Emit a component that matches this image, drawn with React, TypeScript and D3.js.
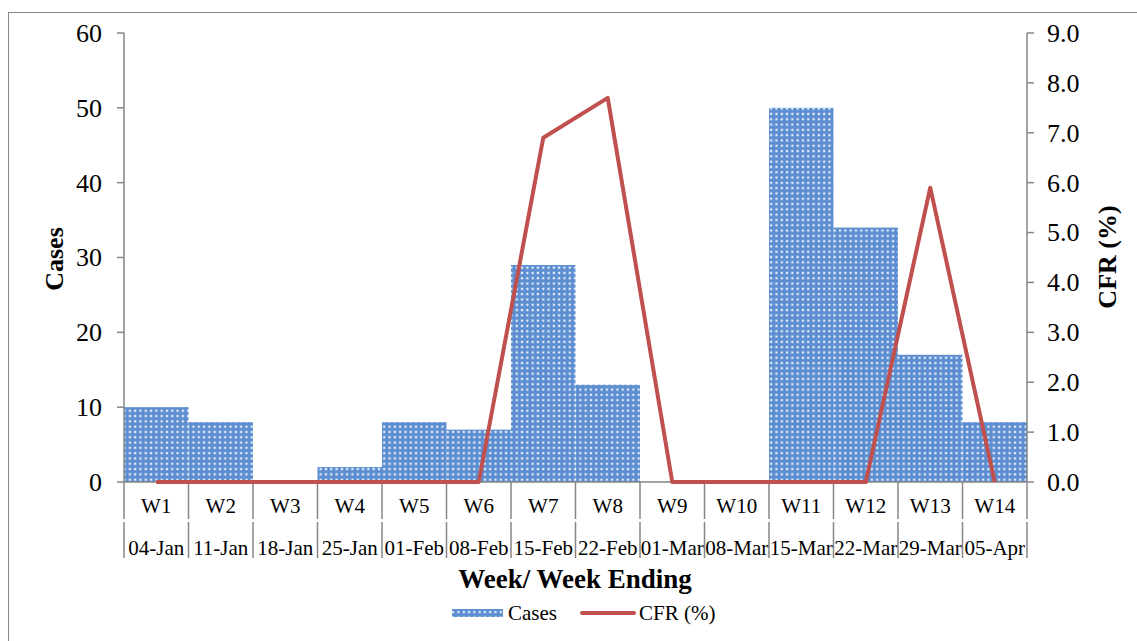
import React from "react";
import * as d3 from "d3";

const weeks = ["W1","W2","W3","W4","W5","W6","W7","W8","W9","W10","W11","W12","W13","W14"];
const weekEnding = ["04-Jan","11-Jan","18-Jan","25-Jan","01-Feb","08-Feb","15-Feb","22-Feb","01-Mar","08-Mar","15-Mar","22-Mar","29-Mar","05-Apr"];
const cases = [10, 8, 0, 2, 8, 7, 29, 13, 0, 0, 50, 34, 17, 8];
const cfr = [0, 0, 0, 0, 0, 0, 6.9, 7.7, 0, 0, 0, 0, 5.9, 0];
const leftTicks = [0, 10, 20, 30, 40, 50, 60];
const rightTicks = [0, 1, 2, 3, 4, 5, 6, 7, 8, 9];

const W = 1137, H = 641;
const m = { left: 124, right: 1027, top: 33, bottom: 482 };
const font = "Liberation Serif";
const axisCol = "#868686";

export default function App() {
  const x = d3.scaleBand<string>().domain(weeks).range([m.left, m.right]).padding(0);
  const yL = d3.scaleLinear().domain([0, 60]).range([m.bottom, m.top]);
  const yR = d3.scaleLinear().domain([0, 9]).range([m.bottom, m.top]);
  const line = d3.line<number>()
    .x((_, i) => (x(weeks[i]) as number) + x.bandwidth() / 2)
    .y((d) => yR(d));
  const bw = x.bandwidth();
  return (
    <svg width={W} height={H} style={{ position: "absolute", left: 0, top: 0 }}>
      <defs>
        <pattern id="dots" width="5.3" height="5.3" patternUnits="userSpaceOnUse">
          <rect width="5.3" height="5.3" fill="#5b8dd0" />
          <rect x="1.2" y="1.2" width="2.9" height="2.9" fill="#a9c5ea" opacity="0.6" />
          <rect x="1.8" y="1.8" width="1.7" height="1.7" fill="#f2f7fd" />
        </pattern>
      </defs>
      <rect x={8.5} y={12.5} width={W} height={H} fill="white" stroke={axisCol} strokeWidth={1} />
      <g fontFamily={font} fill="#000">
        {cases.map((v, i) => (
          <rect key={i} x={x(weeks[i])} y={yL(v)} width={bw} height={m.bottom - yL(v)} fill="url(#dots)" />
        ))}
        <line x1={m.left} x2={m.left} y1={m.top} y2={m.bottom} stroke={axisCol} strokeWidth={1.5} />
        {leftTicks.map((t) => (
          <g key={t}>
            <line x1={m.left - 7} x2={m.left} y1={yL(t)} y2={yL(t)} stroke={axisCol} strokeWidth={1.5} />
            <text x={102} y={yL(t)} dy="0.34em" textAnchor="end" fontSize={26}>{t}</text>
          </g>
        ))}
        <line x1={m.right} x2={m.right} y1={m.top} y2={m.bottom} stroke={axisCol} strokeWidth={1.5} />
        {rightTicks.map((t) => (
          <g key={t}>
            <line x1={m.right} x2={m.right + 7} y1={yR(t)} y2={yR(t)} stroke={axisCol} strokeWidth={1.5} />
            <text x={1047} y={yR(t)} dy="0.34em" textAnchor="start" fontSize={26}>{t.toFixed(1)}</text>
          </g>
        ))}
        <line x1={m.left} x2={m.right} y1={m.bottom} y2={m.bottom} stroke={axisCol} strokeWidth={1.5} />
        {weeks.concat(["end"]).map((w, i) => {
          const xx = m.left + i * bw;
          return (
            <g key={i}>
              <line x1={xx} x2={xx} y1={m.bottom} y2={519} stroke={axisCol} strokeWidth={1.5} />
              <line x1={xx} x2={xx} y1={522} y2={558} stroke={axisCol} strokeWidth={1.5} />
            </g>
          );
        })}
        {weeks.map((w) => (
          <text key={w} x={(x(w) as number) + bw / 2} y={506} dy="0.34em" textAnchor="middle" fontSize={21}>{w}</text>
        ))}
        {weekEnding.map((w, i) => (
          <text key={w} x={(x(weeks[i]) as number) + bw / 2} y={548} dy="0.34em" textAnchor="middle" fontSize={21}>{w}</text>
        ))}
        <path d={line(cfr) || ""} fill="none" stroke="#c0504d" strokeWidth={4} strokeLinejoin="round" />
        <text transform={`translate(63,259) rotate(-90)`} textAnchor="middle" fontSize={26} fontWeight="bold">Cases</text>
        <text transform={`translate(1116,257) rotate(-90)`} textAnchor="middle" fontSize={26} fontWeight="bold">CFR (%)</text>
        <text x={575} y={579} dy="0.34em" textAnchor="middle" fontSize={27} fontWeight="bold">Week/ Week Ending</text>
        <rect x={452} y={609} width={51} height={8} fill="url(#dots)" />
        <text x={508} y={613} dy="0.34em" fontSize={21}>Cases</text>
        <line x1={582} x2={634} y1={613} y2={613} stroke="#c0504d" strokeWidth={4} strokeLinecap="round" />
        <text x={639} y={613} dy="0.34em" fontSize={21}>CFR (%)</text>
      </g>
    </svg>
  );
}
